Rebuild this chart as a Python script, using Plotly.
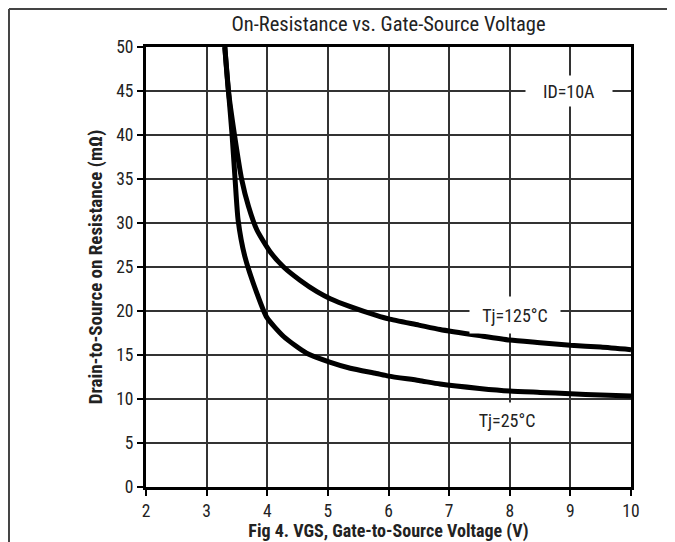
import plotly.graph_objects as go

# Data
vgs_125 = [3.30, 3.36, 3.46, 3.58, 3.69, 3.83, 4.05, 4.27, 4.54, 4.82, 5.04, 5.37, 5.80, 6.0, 6.5, 6.85, 7.5, 8.0, 8.5, 9.0, 9.5, 10.0]
rds_125 = [50.0, 45.0, 40.0, 34.9, 31.9, 29.2, 26.7, 25.0, 23.5, 22.2, 21.4, 20.5, 19.5, 19.1, 18.4, 17.9, 17.2, 16.7, 16.4, 16.1, 15.9, 15.6]

vgs_25 = [3.30, 3.36, 3.42, 3.47, 3.52, 3.63, 3.83, 3.99, 4.27, 4.65, 5.03, 5.37, 5.80, 6.0, 6.5, 6.85, 7.5, 8.0, 8.5, 9.0, 9.5, 10.0]
rds_25 = [50.0, 45.0, 40.0, 34.9, 30.3, 26.2, 22.0, 19.3, 17.1, 15.2, 14.2, 13.5, 12.9, 12.6, 12.1, 11.7, 11.2, 10.9, 10.75, 10.6, 10.45, 10.35]

x_ticks = [2, 3, 4, 5, 6, 7, 8, 9, 10]
y_ticks = [0, 5, 10, 15, 20, 25, 30, 35, 40, 45, 50]

FONT = "Liberation Sans Narrow, Arial Narrow, Roboto Condensed, Liberation Sans, sans-serif"

fig = go.Figure()
fig.add_trace(go.Scatter(x=vgs_125, y=rds_125, mode="lines",
                         line=dict(color="black", width=5, shape="spline", smoothing=0.6),
                         showlegend=False, cliponaxis=True))
fig.add_trace(go.Scatter(x=vgs_25, y=rds_25, mode="lines",
                         line=dict(color="black", width=5, shape="spline", smoothing=0.6),
                         showlegend=False, cliponaxis=True))

annots = [
    dict(x=8.97, y=45.0, text="ID=10A", width=84, height=28),
    dict(x=8.09, y=19.5, text="Tj=125°C", width=88, height=34),
    dict(x=7.96, y=7.6, text="Tj=25°C", width=82, height=32),
]
for a in annots:
    fig.add_annotation(x=a["x"], y=a["y"], xref="x", yref="y", text=a["text"],
                       showarrow=False, bgcolor="white", width=a["width"], height=a["height"],
                       font=dict(family=FONT, size=18, color="#222"))

# Outer frame lines (left, top, right)
FL, FR, FT = -0.2825, 1.0804, 1.0864
fig.add_shape(type="line", xref="paper", yref="paper", x0=FL, x1=FL, y0=-0.15, y1=FT,
              line=dict(color="#444", width=2))
fig.add_shape(type="line", xref="paper", yref="paper", x0=FL, x1=FR, y0=FT, y1=FT,
              line=dict(color="#444", width=2))
fig.add_shape(type="line", xref="paper", yref="paper", x0=FR, x1=FR, y0=-0.15, y1=FT,
              line=dict(color="#444", width=2))

fig.update_layout(
    width=667, height=534,
    margin=dict(l=138, r=44, t=39, b=55),
    paper_bgcolor="white", plot_bgcolor="white",
    title=dict(text="On-Resistance vs. Gate-Source Voltage", x=0.5, xanchor="center",
               y=1 - 16 / 534, yanchor="middle", xref="paper",
               font=dict(family=FONT, size=20.5, color="#222")),
    xaxis=dict(range=[2, 10], tickvals=x_ticks, ticktext=[str(v) for v in x_ticks],
               showgrid=True, gridcolor="#333", gridwidth=1.5, automargin=False,
               showline=True, linecolor="black", linewidth=3, mirror=True,
               ticks="outside", ticklen=6, tickwidth=1.5, tickcolor="black",
               tickfont=dict(family=FONT, size=17.5, color="#222"), zeroline=False,
               title=dict(text="<b>Fig 4. VGS, Gate-to-Source Voltage (V)</b>", standoff=0,
                          font=dict(family=FONT, size=18, color="#222"))),
    yaxis=dict(range=[0, 50], tickvals=y_ticks, ticktext=[str(v) for v in y_ticks],
               showgrid=True, gridcolor="#333", gridwidth=1.5, automargin=False,
               showline=True, linecolor="black", linewidth=3, mirror=True,
               ticks="outside", ticklen=6, tickwidth=1.5, tickcolor="black",
               tickfont=dict(family=FONT, size=17.5, color="#222"), zeroline=False,
               title=dict(text="<b>Drain-to-Source on Resistance (mΩ)</b>", standoff=9,
                          font=dict(family=FONT, size=19, color="#222"))),
)

fig.write_html("out.html")
